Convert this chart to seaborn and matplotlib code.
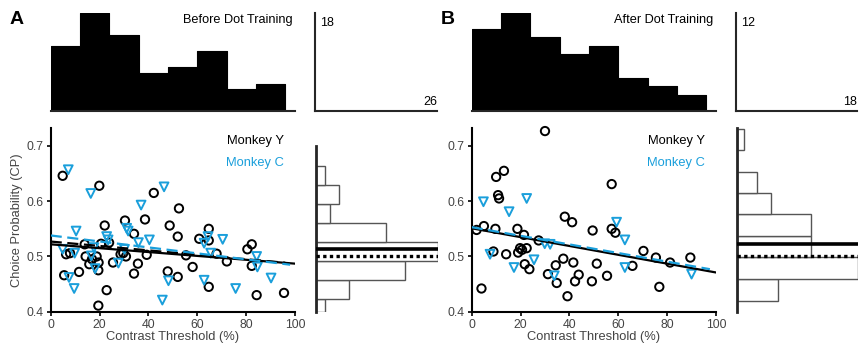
import numpy as np
import pandas as pd
import matplotlib
matplotlib.use("Agg")
import matplotlib.pyplot as plt
import seaborn as sns

# ---------------- data ----------------
# Panel A: Before Dot Training
a_y_x = [4.9, 19.9, 42.2, 52.5, 38.6, 30.4, 22.1, 48.7, 64.7, 34.1, 52.0, 60.8, 64.7, 23.9,
         20.6, 82.3, 80.5, 13.9, 29.7, 28.6, 39.3, 55.4, 6.3, 7.9, 30.8, 14.3, 18.8, 16.9,
         25.5, 19.6, 35.7, 67.9, 72.1, 58.1, 15.8, 19.5, 82.3, 47.9, 5.5, 11.6, 34.1, 52.0,
         64.7, 22.9, 84.3, 95.5, 19.5]
a_y_cp = [0.646, 0.628, 0.615, 0.587, 0.567, 0.565, 0.556, 0.556, 0.550, 0.541, 0.536, 0.532,
          0.529, 0.525, 0.523, 0.522, 0.513, 0.522, 0.506, 0.504, 0.503, 0.502, 0.504, 0.506,
          0.500, 0.500, 0.500, 0.495, 0.489, 0.489, 0.487, 0.505, 0.491, 0.481, 0.486, 0.475,
          0.483, 0.473, 0.466, 0.472, 0.469, 0.463, 0.445, 0.439, 0.430, 0.434, 0.411]
a_c_x = [7.2, 16.4, 46.4, 37.0, 10.4, 31.1, 31.7, 22.9, 64.4, 70.4, 40.4, 35.9, 62.8, 4.9,
         9.8, 17.7, 30.2, 65.5, 84.3, 16.6, 18.2, 27.7, 84.6, 7.5, 9.6, 48.2, 62.8, 75.7,
         90.2, 45.7, 23.5]
a_c_cp = [0.657, 0.614, 0.626, 0.593, 0.546, 0.551, 0.546, 0.536, 0.536, 0.531, 0.530, 0.525,
          0.524, 0.513, 0.506, 0.516, 0.513, 0.506, 0.500, 0.501, 0.478, 0.488, 0.481, 0.462,
          0.442, 0.456, 0.457, 0.442, 0.461, 0.421, 0.530]

# Panel B: After Dot Training
b_y_x = [30.0, 10.0, 13.2, 10.8, 11.2, 57.3, 38.1, 41.1, 2.0, 5.0, 9.7, 18.7, 21.4, 49.5, 57.3,
         58.8, 27.4, 22.5, 19.8, 20.6, 19.0, 8.9, 14.1, 70.3, 75.4, 89.5, 81.2, 37.5, 41.6,
         21.7, 51.2, 34.4, 65.8, 23.6, 43.8, 31.2, 55.4, 42.3, 49.2, 34.8, 76.8, 4.0, 39.2]
b_y_cp = [0.727, 0.644, 0.655, 0.611, 0.605, 0.631, 0.572, 0.562, 0.548, 0.555, 0.550, 0.550,
          0.539, 0.547, 0.550, 0.543, 0.529, 0.515, 0.515, 0.512, 0.507, 0.509, 0.504, 0.510,
          0.498, 0.498, 0.489, 0.496, 0.489, 0.486, 0.487, 0.484, 0.483, 0.477, 0.467, 0.468,
          0.465, 0.455, 0.455, 0.452, 0.445, 0.442, 0.428]
b_c_x = [4.8, 22.5, 15.3, 59.3, 62.7, 29.9, 32.1, 7.5, 25.5, 17.3, 62.7, 33.8, 90.0]
b_c_cp = [0.599, 0.605, 0.581, 0.562, 0.530, 0.523, 0.522, 0.504, 0.494, 0.480, 0.480, 0.465,
          0.468]

# regression lines: (intercept, slope, x_end)
a_fit_all = (0.522, -0.00035, 100)
a_fit_y = (0.527, -0.00040, 96)
a_fit_c = (0.538, -0.00054, 98)
b_fit_all = (0.551, -0.00080, 100)
b_fit_c = (0.553, -0.00078, 97.5)

# marginal histograms
thr_edges = [0, 12, 24, 36, 48, 60, 72, 84, 96]
a_thr_counts = [12, 18, 14, 7, 8, 11, 4, 5]
b_thr_counts = [10, 12, 9, 7, 8, 4, 3, 2]
a_cp_edges = [0.400, 0.4228, 0.4571, 0.4914, 0.5257, 0.5600, 0.5943, 0.6286, 0.6629]
a_cp_counts = [2, 7, 19, 26, 15, 3, 5, 2]
b_cp_edges = [0.419, 0.459, 0.4995, 0.537, 0.577, 0.6155, 0.6535, 0.693, 0.7305]
b_cp_counts = [6, 18, 11, 11, 5, 3, 0, 1]
a_mean_cp = 0.513
b_mean_cp = 0.523

titles = ["Before Dot Training", "After Dot Training"]
letters = ["A", "B"]
top_max = [18, 12]
side_max = [26, 18]

# ---------------- style ----------------
sns.set_theme(style="ticks")
plt.rcParams['font.family'] = ['Liberation Sans', 'DejaVu Sans']
BLUE = '#1a9fdb'
TXT = '#444444'

fig = plt.figure(figsize=(8.59, 3.46), dpi=100)
W, H = 859.0, 346.0

def ax_px(x0, y0, x1, y1):
    return fig.add_axes([x0 / W, 1 - y1 / H, (x1 - x0) / W, (y1 - y0) / H])

panels = [
    dict(sx=(50.7, 295.0), side=(316.0, 438.0), yx=a_y_x, ycp=a_y_cp, cx=a_c_x, ccp=a_c_cp,
         fits=[(a_fit_all, 'black', '-'), (a_fit_y, 'black', '--'), (a_fit_c, BLUE, '--')],
         thr=a_thr_counts, cpe=a_cp_edges, cpc=a_cp_counts, mean=a_mean_cp, spine_top=0.7,
         letter_x=10),
    dict(sx=(471.7, 716.0), side=(737.3, 858.0), yx=b_y_x, ycp=b_y_cp, cx=b_c_x, ccp=b_c_cp,
         fits=[(b_fit_all, 'black', '-'), (b_fit_c, BLUE, '--')],
         thr=b_thr_counts, cpe=b_cp_edges, cpc=b_cp_counts, mean=b_mean_cp, spine_top=0.732,
         letter_x=441),
]

YLIM = (0.4, 0.732)
for i, p in enumerate(panels):
    x0, x1 = p['sx']
    # ---- scatter ----
    ax = ax_px(x0, 128.3, x1, 311.7)
    dfy = pd.DataFrame({'thr': p['yx'], 'cp': p['ycp']})
    dfc = pd.DataFrame({'thr': p['cx'], 'cp': p['ccp']})
    sns.scatterplot(data=dfy, x='thr', y='cp', ax=ax, marker='o', s=36,
                    facecolors='none', edgecolors='black', linewidth=1.4, zorder=3,
                    clip_on=False)
    sns.scatterplot(data=dfc, x='thr', y='cp', ax=ax, marker='v', s=40,
                    facecolors='none', edgecolors=BLUE, linewidth=1.4, zorder=3,
                    clip_on=False)
    for (b0, m, xe), col, ls in p['fits']:
        lx = np.array([0.0, xe])
        sns.lineplot(x=lx, y=b0 + m * lx, ax=ax, color=col, lw=1.6,
                     linestyle=ls, dashes=False, zorder=4)
        if ls == '--':
            ax.lines[-1].set_dashes((5, 2.5))
    ax.set_xlim(0, 100)
    ax.set_ylim(*YLIM)
    ax.set_xticks([0, 20, 40, 60, 80, 100])
    ax.set_yticks([0.4, 0.5, 0.6, 0.7])
    ax.set_yticklabels(['0.4', '0.5', '0.6', '0.7'])
    if i == 0:
        ax.set_ylabel('Choice Probability (CP)', fontsize=9.3, color=TXT, labelpad=3)
    else:
        ax.set_ylabel('')
    ax.set_xlabel('Contrast Threshold (%)', fontsize=9.3, color=TXT, labelpad=0)
    ax.tick_params(labelsize=8.8, colors='black', labelcolor=TXT, length=3, width=1.2, pad=2)
    for s in ['top', 'right']:
        ax.spines[s].set_visible(False)
    for s in ['left', 'bottom']:
        ax.spines[s].set_linewidth(1.5)
        ax.spines[s].set_color('black')
    ax.text(0.955, 0.93, 'Monkey Y', transform=ax.transAxes, ha='right', va='center',
            fontsize=9.3, color='black')
    ax.text(0.955, 0.81, 'Monkey C', transform=ax.transAxes, ha='right', va='center',
            fontsize=9.3, color=BLUE)

    # ---- top histogram ----
    at = ax_px(x0, 13, x1, 111)
    centers = [(thr_edges[k] + thr_edges[k + 1]) / 2 for k in range(len(p['thr']))]
    sns.histplot(x=centers, weights=p['thr'], bins=thr_edges, ax=at, element='step',
                 fill=True, color='black', alpha=1, edgecolor='black', linewidth=0.8)
    at.set_xlim(0, 100)
    at.set_ylim(0, top_max[i])
    at.set_xlabel('')
    at.set_ylabel('')
    at.set_xticks([])
    at.set_yticks([])
    for s in ['top', 'right', 'left']:
        at.spines[s].set_visible(False)
    at.spines['bottom'].set_linewidth(1.5)
    at.text(0.99, 0.93, titles[i], transform=at.transAxes, ha='right', va='center',
            fontsize=9.2, color='black')
    fig.text(p['letter_x'] / W, 1 - 20 / H, letters[i], fontsize=14, fontweight='bold',
             ha='left', va='center', color='black')

    # ---- side histogram ----
    s0, s1 = p['side']
    asd = ax_px(s0, 128.3, s1, 311.7)
    e = p['cpe']
    cc = [(e[k] + e[k + 1]) / 2 for k in range(len(p['cpc']))]
    sns.histplot(y=cc, weights=p['cpc'], bins=e, ax=asd, color='white', alpha=1,
                 edgecolor='#555555', linewidth=1.0)
    asd.axhline(p['mean'], color='black', lw=2.6, zorder=5)
    asd.axhline(0.5, color='black', lw=2.4, linestyle=(0, (1, 1)), zorder=5)
    asd.set_xlim(0, side_max[i])
    asd.set_ylim(*YLIM)
    asd.set_xlabel('')
    asd.set_ylabel('')
    asd.set_xticks([])
    asd.set_yticks([])
    for s in ['top', 'right', 'bottom']:
        asd.spines[s].set_visible(False)
    asd.spines['left'].set_linewidth(2)
    asd.spines['left'].set_bounds(0.4, p['spine_top'])
    asd.set_facecolor('none')

    # ---- corner scale panel ----
    ac = ax_px(s0 - 1, 13, s1 - 1, 111)
    ac.set_xlim(0, side_max[i])
    ac.set_ylim(0, top_max[i])
    ac.set_xticks([])
    ac.set_yticks([])
    for s in ['top', 'right']:
        ac.spines[s].set_visible(False)
    ac.spines['left'].set_linewidth(1.5)
    ac.spines['bottom'].set_linewidth(1.5)
    ac.set_facecolor('none')
    ac.text(0.04, 0.96, str(top_max[i]), transform=ac.transAxes, ha='left', va='top',
            fontsize=9, color='black')
    ac.text(1.0, 0.03, str(side_max[i]), transform=ac.transAxes, ha='right', va='bottom',
            fontsize=9, color='black')

fig.savefig('out.png', dpi=100)
